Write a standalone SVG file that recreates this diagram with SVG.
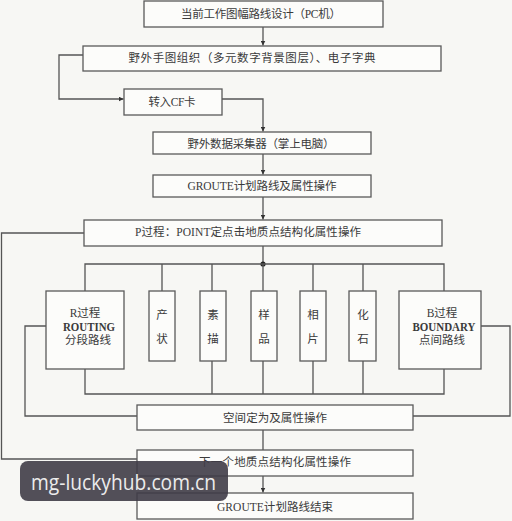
<svg xmlns="http://www.w3.org/2000/svg" width="512" height="521" viewBox="0 0 512 521">
<style>
.bg{fill:#f7f7f4}
.box{fill:#fcfcfa;stroke:#5a5a5a;stroke-width:1.3}
.ln{fill:none;stroke:#555;stroke-width:1.3}
.t{font-family:"Liberation Serif","Noto Sans CJK SC",serif;font-size:11.5px;fill:#3a3a3a;text-anchor:middle;dominant-baseline:central}
.lt{font-family:"Liberation Serif","Noto Sans CJK SC",serif;font-size:11.5px;font-weight:bold;fill:#3a3a3a;text-anchor:middle;dominant-baseline:central}
.wm{font-family:"Open Sans","Noto Sans",sans-serif;font-size:21px;fill:#ececec}
</style>
<defs>
<marker id="ah" viewBox="0 0 6 6" refX="6" refY="3" markerWidth="5" markerHeight="5" orient="auto" markerUnits="userSpaceOnUse">
<path d="M0,0 L6,3 L0,6 Z" fill="#333"/>
</marker>
</defs>
<rect class="bg" x="0" y="0" width="512" height="521"/>
<g id="connectors">
<path class="ln" d="M263,27 V45.5" marker-end="url(#ah)"/>
<path class="ln" d="M83,55 H59 V99 H123.5" marker-end="url(#ah)"/>
<path class="ln" d="M222,99 H263 V131.5" marker-end="url(#ah)"/>
<path class="ln" d="M263,154 V174.5" marker-end="url(#ah)"/>
<path class="ln" d="M263,197 V219.5" marker-end="url(#ah)"/>
<path class="ln" d="M263,246 V264"/>
<circle cx="263" cy="264" r="2.6" fill="#222"/>
<path class="ln" d="M85,291 V264 H444 V291 M162,264 V291 M212,264 V291 M263,264 V291 M313,264 V291 M363,264 V291"/>
<path class="ln" d="M85,369 V394 H444 V369 M212,361 V394 M263,361 V394 M313,361 V394 M363,361 V394"/>
<path class="ln" d="M46,326 H25 V416 H137"/>
<path class="ln" d="M481,326 H510 V416 H413"/>
<path class="ln" d="M84,233 H1.5 V459 H137"/>
<path class="ln" d="M263,430 V450"/>
<path class="ln" d="M263,476 V492.5" marker-end="url(#ah)"/>
</g>
<g id="n1"><rect class="box" x="144" y="1" width="239" height="26"/><text class="t" x="261" y="14" textLength="160" lengthAdjust="spacing">当前工作图幅路线设计（PC机）</text></g>
<g id="n2"><rect class="box" x="83" y="46" width="358" height="25"/><text class="t" x="252" y="58" textLength="247" lengthAdjust="spacing">野外手图组织（多元数字背景图层）、电子字典</text></g>
<g id="n3"><rect class="box" x="124" y="89" width="98" height="26"/><text class="t" x="172" y="102" textLength="47" lengthAdjust="spacing">转入CF卡</text></g>
<g id="n4"><rect class="box" x="153" y="132" width="218" height="22"/><text class="t" x="261" y="144" textLength="147" lengthAdjust="spacing">野外数据采集器（掌上电脑）</text></g>
<g id="n5"><rect class="box" x="153" y="175" width="218" height="22"/><text class="t" x="262" y="186" textLength="149" lengthAdjust="spacing">GROUTE计划路线及属性操作</text></g>
<g id="n6"><rect class="box" x="84" y="220" width="358" height="26"/><text class="t" x="248" y="232" textLength="226" lengthAdjust="spacing">P过程：POINT定点击地质点结构化属性操作</text></g>
<g id="r"><rect class="box" x="46" y="291" width="78" height="78"/><text class="t" x="85" y="313">R过程</text><text class="lt" x="89" y="327" textLength="52" lengthAdjust="spacingAndGlyphs">ROUTING</text><text class="t" x="88" y="340">分段路线</text></g>
<g id="cz"><rect class="box" x="149" y="291" width="26" height="70"/><text class="t" x="162" y="315">产</text><text class="t" x="162" y="339">状</text></g>
<g id="sm"><rect class="box" x="200" y="291" width="26" height="70"/><text class="t" x="213" y="315">素</text><text class="t" x="213" y="339">描</text></g>
<g id="yp"><rect class="box" x="251" y="291" width="26" height="70"/><text class="t" x="264" y="315">样</text><text class="t" x="264" y="339">品</text></g>
<g id="xp"><rect class="box" x="300" y="291" width="26" height="70"/><text class="t" x="313" y="315">相</text><text class="t" x="313" y="339">片</text></g>
<g id="hs"><rect class="box" x="349" y="291" width="27" height="70"/><text class="t" x="363" y="315">化</text><text class="t" x="363" y="339">石</text></g>
<g id="b"><rect class="box" x="399" y="291" width="82" height="78"/><text class="t" x="442" y="313">B过程</text><text class="lt" x="444" y="327" textLength="63" lengthAdjust="spacingAndGlyphs">BOUNDARY</text><text class="t" x="442" y="340">点间路线</text></g>
<g id="n7"><rect class="box" x="137" y="405" width="276" height="25"/><text class="t" x="275" y="418" textLength="104" lengthAdjust="spacing">空间定为及属性操作</text></g>
<g id="n8"><rect class="box" x="137" y="450" width="276" height="26"/><text class="t" x="275" y="462" textLength="152" lengthAdjust="spacing">下一个地质点结构化属性操作</text></g>
<g id="n9"><rect class="box" x="137" y="493" width="276" height="26"/><text class="t" x="275" y="507" textLength="116" lengthAdjust="spacing">GROUTE计划路线结束</text></g>
<g id="watermark"><rect x="20" y="461" width="208" height="40" rx="8" fill="#3f3c47" opacity="0.9"/><text class="wm" x="31" y="490" textLength="185" lengthAdjust="spacingAndGlyphs">mg-luckyhub.com.cn</text></g>
</svg>
